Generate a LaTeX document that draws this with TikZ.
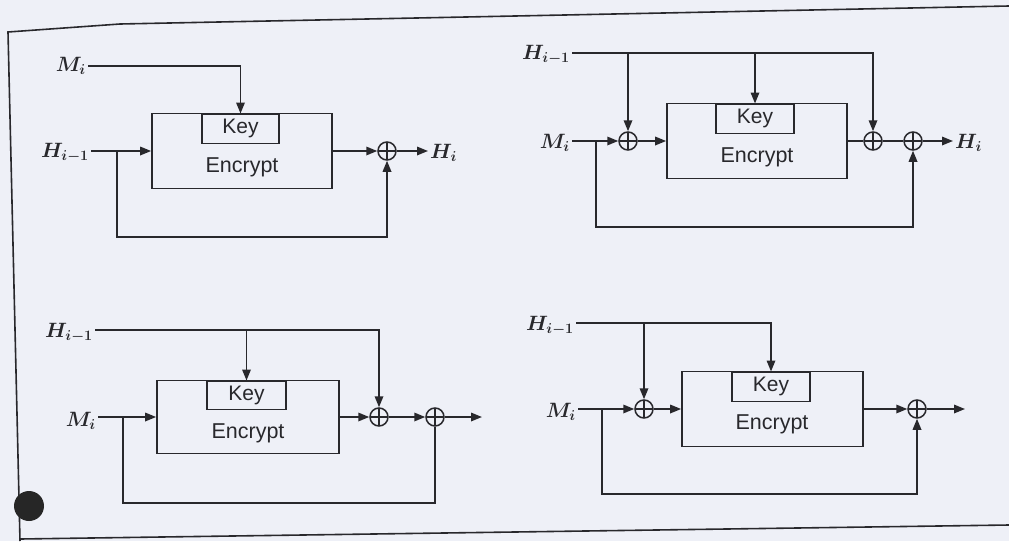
\documentclass[tikz,border=0pt]{standalone}
\usepackage{fontspec}
\setsansfont{Liberation Sans}
\usetikzlibrary{arrows.meta}
\definecolor{paper}{RGB}{238,240,247}
\definecolor{ink}{RGB}{40,40,44}
\tikzset{
  ln/.style={draw=ink, line width=1.7pt},
  arr/.style={ln, -{Triangle[length=11pt,width=8.5pt]}},
  lab/.style={text=ink, inner sep=2pt, font=\fontsize{20.74}{25}\selectfont\boldmath},
  encbox/.style={draw=ink, line width=1.7pt, rectangle, inner sep=0pt},
  keybox/.style={draw=ink, line width=1.7pt, rectangle, inner sep=0pt, anchor=north,
    font=\sffamily\fontsize{21}{24}\selectfont, text=ink},
  enctext/.style={text=ink, font=\sffamily\fontsize{21.5}{24}\selectfont, inner sep=0pt},
  xor/.style={circle, draw=ink, line width=1.5pt, minimum size=18pt, inner sep=0pt,
    path picture={\draw[ink, line width=1.3pt]
      (path picture bounding box.north) -- (path picture bounding box.south)
      (path picture bounding box.west) -- (path picture bounding box.east);}}
}
\begin{document}
\begin{tikzpicture}[x=1pt,y=-1pt]
\fill[paper] (0,0) rectangle (1009,541);
\useasboundingbox (0,0) rectangle (1009,541);
% frame (scanned page edges)
\draw[ink, line width=1.6pt] (1009,6) -- (120,24) -- (8,32) -- (20,541);
\draw[ink, line width=1.6pt] (20,539) -- (1009,525);
\fill[black!85] (29,506) circle (15);

% ---------------- Q1 ----------------
\node[encbox, minimum width=180pt, minimum height=75pt] (E1) at (242,151) {};
\node[keybox, minimum width=77pt, minimum height=29pt] (K1) at (240.5,113.5) {Key};
\node[enctext] (T1) at (242,167) {Encrypt};
\node[lab, anchor=east] (M1) at (88,66) {$M_i$};
\node[lab, anchor=east] (H1) at (91,153) {$H_{i-1}$};
\node[xor] (X1) at (387,151) {};
\node[lab, anchor=west] (O1) at (428,153) {$H_i$};
\coordinate (B1) at (117,151);
\draw[arr] (M1.east) -| (K1.north);
\draw[arr] (H1.east |- E1.west) -- (E1.west);
\draw[arr] (E1.east) -- (X1.west);
\draw[arr] (X1.east) -- (O1.west |- X1.east);
\draw[arr] (B1) -- ++(0,86) -| (X1.south);

% ---------------- Q2 ----------------
\node[encbox, minimum width=180pt, minimum height=75pt] (E2) at (757,141) {};
\node[keybox, minimum width=78pt, minimum height=29pt] (K2) at (755,103.5) {Key};
\node[enctext] (T2) at (757,157) {Encrypt};
\node[lab, anchor=east] (H2) at (572,55) {$H_{i-1}$};
\node[lab, anchor=east] (M2) at (572,143) {$M_i$};
\node[xor] (X21) at (628,141) {};
\node[xor] (X22) at (873,141) {};
\node[xor] (X23) at (913,141) {};
\node[lab, anchor=west] (O2) at (953,143) {$H_i$};
\coordinate (B2) at (596,141);
\draw[arr] (H2.east |- 0,53) -| (X22.north);
\draw[arr] (X21 |- 0,53) -- (X21.north);
\draw[arr] (K2 |- 0,53) -- (K2.north);
\draw[arr] (M2.east |- X21.west) -- (X21.west);
\draw[arr] (X21.east) -- (E2.west);
\draw[ln] (E2.east) -- (X22.west);
\draw[ln] (X22.east) -- (X23.west);
\draw[arr] (X23.east) -- (O2.west |- X23.east);
\draw[arr] (B2) -- ++(0,86) -| (X23.south);

% ---------------- Q3 ----------------
\node[encbox, minimum width=182pt, minimum height=73pt] (E3) at (248,417) {};
\node[keybox, minimum width=79pt, minimum height=28pt] (K3) at (246.5,380.5) {Key};
\node[enctext] (T3) at (248,433) {Encrypt};
\node[lab, anchor=east] (H3) at (95,333) {$H_{i-1}$};
\node[lab, anchor=east] (M3) at (98,421) {$M_i$};
\node[xor] (X31) at (379,417) {};
\node[xor] (X32) at (435,417) {};
\coordinate (Q3) at (482,417);
\coordinate (B3) at (123,417);
\draw[arr] (H3.east |- 0,330) -| (X31.north);
\draw[arr] (K3 |- 0,330) -- (K3.north);
\draw[arr] (M3.east |- E3.west) -- (E3.west);
\draw[arr] (E3.east) -- (X31.west);
\draw[arr] (X31.east) -- (X32.west);
\draw[arr] (X32.east) -- (Q3);
\draw[ln] (B3) -- ++(0,86) -| (X32.south);

% ---------------- Q4 ----------------
\node[encbox, minimum width=181pt, minimum height=75pt] (E4) at (772.5,409) {};
\node[keybox, minimum width=78pt, minimum height=29pt] (K4) at (771,371.5) {Key};
\node[enctext] (T4) at (772,424) {Encrypt};
\node[lab, anchor=east] (H4) at (576,326) {$H_{i-1}$};
\node[lab, anchor=east] (M4) at (578,412) {$M_i$};
\node[xor] (X41) at (644,409) {};
\node[xor] (X42) at (917,409) {};
\coordinate (Q4) at (965,409);
\coordinate (B4) at (602,409);
\draw[arr] (H4.east |- 0,323) -| (K4.north);
\draw[arr] (X41 |- 0,323) -- (X41.north);
\draw[arr] (M4.east |- X41.west) -- (X41.west);
\draw[arr] (X41.east) -- (E4.west);
\draw[arr] (E4.east) -- (X42.west);
\draw[arr] (X42.east) -- (Q4);
\draw[arr] (B4) -- ++(0,85) -| (X42.south);
\end{tikzpicture}
\end{document}
